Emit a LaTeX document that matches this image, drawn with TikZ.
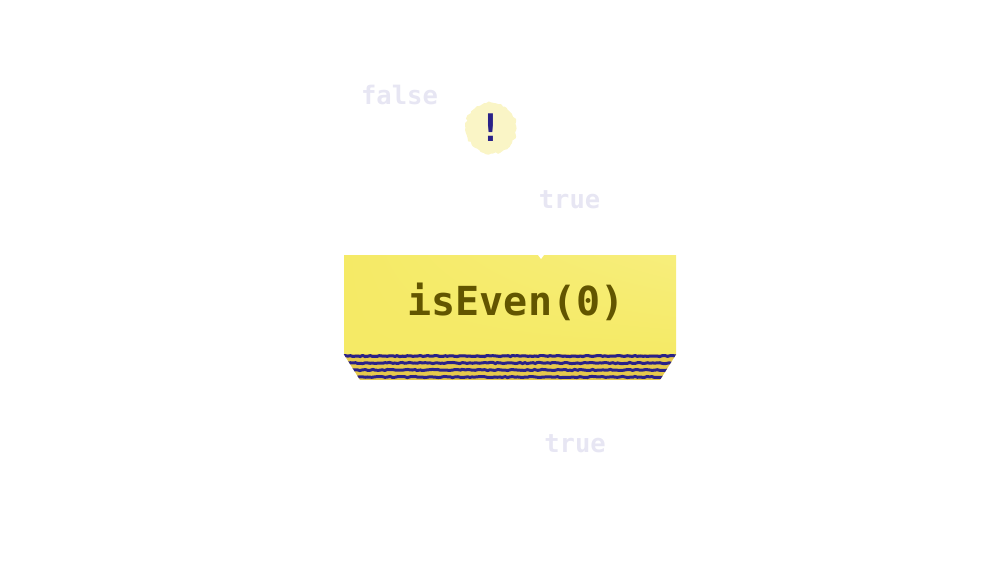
\documentclass[tikz,border=0pt]{standalone}
\usepackage{fontspec}
\setmonofont{DejaVu Sans Mono}
\usetikzlibrary{positioning, shadings, decorations.pathmorphing}
\definecolor{evenyellow}{HTML}{F5EA66}
\definecolor{evenlight}{HTML}{F7EE7C}
\definecolor{evengold}{HTML}{E6C94C}
\definecolor{eventext}{HTML}{625500}
\definecolor{evennavy}{HTML}{2A2288}
\definecolor{ghosttext}{HTML}{E7E6F3}
\definecolor{bangyellow}{HTML}{FAF5C6}
\tikzset{
    even_box/.style={
        rectangle,
        lower left=evenyellow,
        lower right=evenyellow,
        upper left=evenyellow,
        upper right=evenlight,
        minimum width=332pt,
        minimum height=99pt,
        inner sep=0pt,
        text=eventext,
        font=\ttfamily\bfseries\fontsize{40pt}{40pt}\selectfont
    },
    even_stripe/.style={
        draw=evennavy,
        line width=3pt,
        decorate,
        decoration={random steps, segment length=2.5pt, amplitude=0.6pt}
    },
    ghost_label/.style={
        text=ghosttext,
        inner sep=0pt,
        font=\ttfamily\bfseries\fontsize{25.5pt}{26pt}\selectfont
    },
    bang_node/.style={
        circle,
        fill=bangyellow,
        minimum size=51pt,
        inner sep=0pt,
        text=evennavy,
        decorate,
        decoration={random steps, segment length=2.5pt, amplitude=1.2pt},
        font=\ttfamily\bfseries\fontsize{38pt}{38pt}\selectfont
    }
}

\begin{document}
\begin{tikzpicture}[x=1pt, y=-1pt]
\useasboundingbox (0,0) rectangle (1000,576);

% Function box
\node[even_box] (evenBox) at (510,304.5) {\hspace*{12pt}\raisebox{-10.5pt}[0pt][0pt]{isEven(0)}};
\fill[white] (538,255) -- (544,255) -- (541,259) -- cycle;

% Stripes under the box
\coordinate (baseLeft) at (360,380);
\coordinate (baseRight) at (660,380);
\begin{scope}
  \clip (evenBox.south west) -- (evenBox.south east) -- (baseRight) -- (baseLeft) -- cycle;
  \fill[evengold] (evenBox.south west) rectangle (baseRight -| evenBox.east);
  \foreach \stripeY in {356,363,370,377}
    \path[even_stripe] (340,\stripeY) -- (680,\stripeY);
\end{scope}

% Values
\node[ghost_label] (falseLabel) at (399.5,94.5) {false};
\node[ghost_label] (trueTop) at (569.5,199.5) {true};
\node[ghost_label] (trueBottom) at (575,443.5) {true};

% Negation
\node[bang_node] (bangNode) at (491,128) {!};

\end{tikzpicture}
\end{document}
